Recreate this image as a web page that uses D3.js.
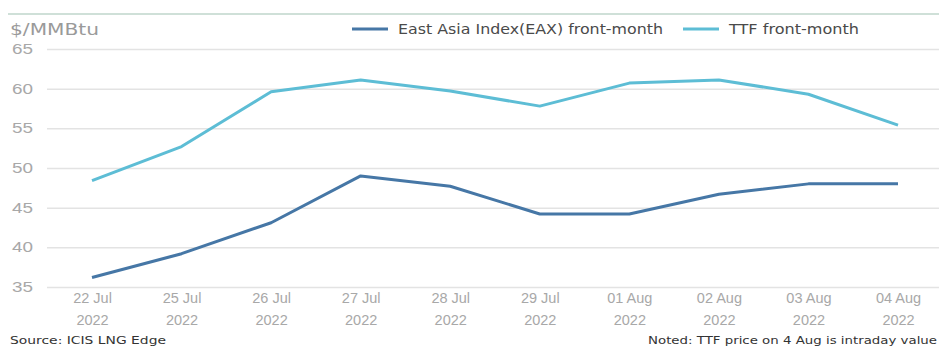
<!DOCTYPE html>
<html><head><meta charset="utf-8">
<script src="https://cdn.jsdelivr.net/npm/d3@7"></script>
<style>body{margin:0;background:#fff;}svg{display:block;font-family:"DejaVu Sans",sans-serif;}</style>
</head><body><svg id="c" width="939" height="347"></svg>
<script>
const categories = ["22 Jul 2022","25 Jul 2022","26 Jul 2022","27 Jul 2022","28 Jul 2022","29 Jul 2022","01 Aug 2022","02 Aug 2022","03 Aug 2022","04 Aug 2022"];
const eaxValues = [36.2, 39.2, 43.1, 49.0, 47.7, 44.2, 44.2, 46.7, 48.0, 48.0];
const ttfValues = [48.4, 52.7, 59.6, 61.1, 59.7, 57.8, 60.7, 61.1, 59.3, 55.4];
const yTicks = [35, 40, 45, 50, 55, 60, 65];
const seriesNames = ["East Asia Index(EAX) front-month", "TTF front-month"];
const seriesColors = ["#4677a6", "#5dbdd5"];

const svg = d3.select("#c");
const x = d3.scalePoint().domain(categories).range([92, 898]);
const y = d3.scaleLinear().domain([35, 65]).range([287, 49]);

// top rule
svg.append("line").attr("x1", 8).attr("x2", 939).attr("y1", 14).attr("y2", 14)
  .attr("stroke", "#cfe0d8").attr("stroke-width", 2);

// gridlines
const yAxis = d3.axisLeft(y).tickValues(yTicks).tickSize(-(939 - 47)).tickFormat(d3.format("d"));
const gy = svg.append("g").attr("transform", "translate(47,0)").call(yAxis);
gy.select(".domain").remove();
gy.selectAll(".tick line").attr("stroke", "#e3e3e3").attr("stroke-width", 1.5);
gy.selectAll(".tick text").attr("x", -35).attr("text-anchor", "start")
  .attr("fill", "#a8a8a8").attr("font-size", 14).attr("textLength", 21).attr("lengthAdjust", "spacingAndGlyphs");

// x axis
const xAxis = d3.axisBottom(x).tickSize(0).tickFormat(() => "");
const gx = svg.append("g").attr("transform", "translate(0,287)").call(xAxis);
gx.select(".domain").remove();
gx.selectAll(".tick").each(function(d) {
  const parts = d.split(" ");
  const t = d3.select(this).append("text").attr("fill", "#a8a8a8").attr("font-size", 14.5)
    .attr("text-anchor", "middle");
  t.append("tspan").attr("x", 0).attr("y", 16).text(parts[0] + " " + parts[1]);
  t.append("tspan").attr("x", 0).attr("y", 38).text(parts[2]);
});

// lines
const line = d3.line().x((d, i) => x(categories[i])).y(d => y(d));
[eaxValues, ttfValues].forEach((vals, k) => {
  svg.append("path").datum(vals).attr("d", line).attr("fill", "none")
    .attr("stroke", seriesColors[k]).attr("stroke-width", 3).attr("stroke-linejoin", "round");
});

// unit label
svg.append("text").attr("x", 10).attr("y", 35).attr("fill", "#9a9a9a").attr("font-size", 16)
  .attr("textLength", 89).attr("lengthAdjust", "spacingAndGlyphs").text("$/MMBtu");

// legend
const legX = [352, 683];
const legW = [265, 130];
seriesNames.forEach((n, k) => {
  svg.append("line").attr("x1", legX[k]).attr("x2", legX[k] + 36).attr("y1", 29).attr("y2", 29)
    .attr("stroke", seriesColors[k]).attr("stroke-width", 3);
  svg.append("text").attr("x", legX[k] + 46).attr("y", 34).attr("fill", "#4a4a4a").attr("font-size", 13.5)
    .attr("textLength", legW[k]).attr("lengthAdjust", "spacingAndGlyphs").text(n);
});

// footer
svg.append("text").attr("x", 10).attr("y", 344).attr("fill", "#333").attr("font-size", 11)
  .attr("textLength", 156).attr("lengthAdjust", "spacingAndGlyphs").text("Source: ICIS LNG Edge");
svg.append("text").attr("x", 648).attr("y", 344).attr("fill", "#333").attr("font-size", 11)
  .attr("textLength", 289).attr("lengthAdjust", "spacingAndGlyphs").text("Noted: TTF price on 4 Aug is intraday value");
</script></body></html>
